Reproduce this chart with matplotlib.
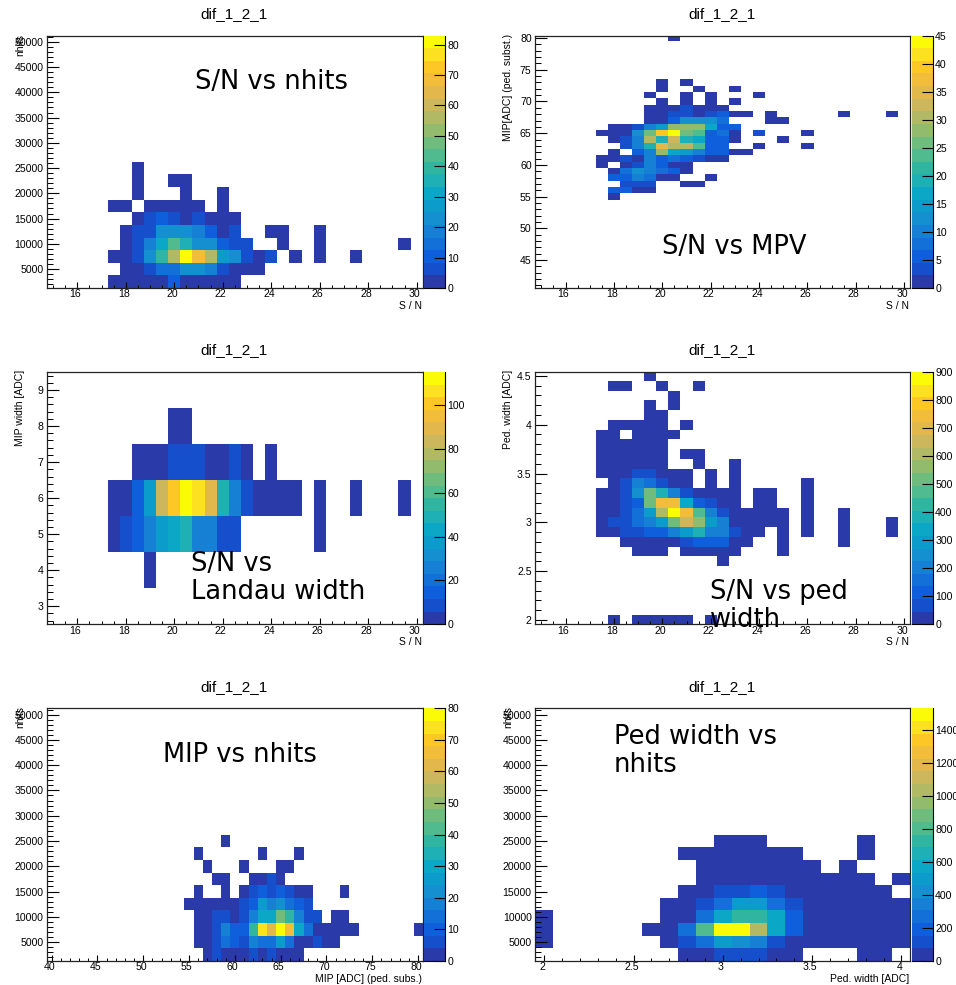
import numpy as np
import matplotlib
matplotlib.use('Agg')
import matplotlib.pyplot as plt
from matplotlib.colors import ListedColormap, Normalize
from matplotlib.ticker import MultipleLocator
from matplotlib.transforms import ScaledTranslation

# 20 contour colours
contour_colors = ['#2a3aa8', '#164fcb', '#0f5fdc', '#1370d8', '#1680d5',
                  '#1490d0', '#0b9ccc', '#0aa8c6', '#1eb0b5', '#30b5a0',
                  '#4fbb8e', '#70bc7e', '#92bb6e', '#b2b964', '#cdb75c',
                  '#e2b84c', '#f2bd3a', '#fdc826', '#fbe120', '#fbfb06']

# bin edges of the histograms
sn_edges = np.arange(14.75, 30.5, 0.5)
nhits_edges = np.arange(1250, 51500, 2500)
mip_edges = np.arange(40.5, 81, 1.0)
mipx_edges = np.arange(39.5, 81, 1.0)
width_edges = np.arange(2.5, 10, 1.0)
ped_edges = np.arange(1.95, 4.6, 0.1)
pedx_edges = np.arange(1.95, 4.1, 0.1)

# each row is (y bin, first x bin, contents)
sn_nhits = [
    (0, 5, [2, 2, 2, 2, 2, 10, 2, 2, 2, 2, 2]),
    (1, 6, [2, 2, 8, 16, 13, 21, 24, 20, 7, 2, 2, 2]),
    (2, 5, [2, 2, 6, 22, 38, 58, 83, 70, 57, 28, 24, 7, 2, 6, 0, 2, 0, 2, 0, 0, 2]),
    (3, 6, [2, 6, 20, 31, 45, 36, 22, 22, 10, 6, 6, 0, 0, 2, 0, 0, 2, 0, 0, 0, 0, 0, 0, 2]),
    (4, 6, [2, 6, 8, 24, 24, 24, 17, 11, 2, 6, 0, 0, 2, 2, 0, 0, 2]),
    (5, 7, [2, 6, 9, 7, 2, 6, 2, 2, 2]),
    (6, 5, [2, 2, 0, 2, 2, 2, 2, 2, 0, 2]),
    (7, 7, [2, 0, 0, 0, 2, 0, 0, 2]),
    (8, 7, [2, 0, 0, 2, 2]),
    (9, 7, [2]),
]
sn_mip = [
    (39, 11, [2]),
    (32, 10, [2, 0, 2]),
    (31, 10, [2, 0, 0, 2, 0, 0, 2]),
    (30, 9, [2, 0, 0, 2, 0, 2, 0, 0, 0, 2]),
    (29, 10, [2, 0, 2, 0, 2, 0, 2]),
    (28, 9, [2, 2, 2, 4, 2, 2, 2]),
    (27, 9, [2, 2, 4, 4, 2, 4, 5, 2, 2, 0, 2, 0, 0, 0, 0, 0, 2, 0, 0, 0, 2]),
    (26, 9, [2, 2, 5, 12, 12, 13, 8, 0, 0, 0, 2, 2]),
    (25, 6, [2, 2, 4, 9, 15, 28, 28, 27, 16, 6, 5]),
    (24, 5, [2, 2, 2, 13, 26, 40, 45, 26, 23, 5, 8, 2, 0, 4, 0, 0, 0, 2]),
    (23, 6, [2, 4, 11, 30, 18, 33, 19, 16, 5, 5, 2, 0, 0, 0, 2]),
    (22, 7, [4, 9, 19, 34, 30, 30, 24, 6, 6, 0, 0, 2, 0, 0, 0, 2]),
    (21, 6, [2, 0, 6, 10, 28, 17, 15, 10, 5, 5, 2, 2]),
    (20, 5, [2, 2, 4, 2, 9, 5, 8, 6, 3, 2, 2]),
    (19, 5, [2, 0, 2, 4, 9, 5, 2, 2]),
    (18, 6, [2, 7, 13, 9, 8, 6, 2]),
    (17, 6, [5, 6, 9, 7, 2, 2, 0, 0, 2]),
    (16, 7, [4, 4, 4, 0, 0, 2, 2]),
    (15, 6, [6, 5, 2, 2]),
    (14, 6, [2]),
]
sn_width = [
    (5, 10, [2, 2]),
    (4, 7, [2, 2, 2, 8, 8, 8, 2, 2, 7, 2, 0, 2]),
    (3, 5, [2, 2, 12, 37, 84, 98, 115, 108, 90, 47, 25, 8, 2, 2, 2, 2, 0, 2, 0, 0, 2, 0, 0, 0, 2]),
    (2, 5, [2, 8, 12, 24, 38, 42, 47, 24, 24, 8, 8, 0, 0, 0, 0, 0, 0, 2]),
    (1, 8, [2]),
]
sn_ped = [
    (25, 9, [2]),
    (24, 6, [2, 2, 0, 0, 2, 0, 0, 2]),
    (23, 11, [2]),
    (22, 9, [2, 0, 2]),
    (21, 9, [2, 2]),
    (20, 6, [20, 20, 20, 20, 20, 0, 20]),
    (19, 5, [20, 20, 0, 20, 20, 20, 20]),
    (18, 5, [20, 20, 20, 20, 20, 20]),
    (17, 5, [20, 20, 20, 20, 20, 20, 0, 20, 20]),
    (16, 5, [20, 20, 20, 20, 20, 20, 0, 0, 20, 0, 0, 20]),
    (15, 5, [20, 20, 20, 50, 50, 20, 20, 20, 0, 20, 0, 20]),
    (14, 6, [20, 70, 220, 160, 80, 20, 20, 0, 20, 0, 20, 0, 0, 0, 0, 0, 20]),
    (13, 5, [20, 20, 70, 260, 500, 380, 200, 80, 20, 20, 20, 20, 0, 20, 20, 0, 0, 20]),
    (12, 5, [20, 20, 70, 120, 510, 750, 720, 340, 120, 70, 20, 20, 0, 20, 20, 0, 0, 20]),
    (11, 5, [20, 20, 80, 160, 280, 590, 900, 760, 470, 190, 80, 20, 20, 20, 20, 20, 0, 20, 0, 0, 20]),
    (10, 5, [20, 70, 80, 150, 190, 310, 500, 630, 560, 280, 190, 20, 20, 20, 20, 20, 0, 20, 0, 0, 20, 0, 0, 0, 20]),
    (9, 5, [20, 20, 60, 70, 120, 120, 200, 280, 400, 180, 190, 80, 20, 20, 0, 20, 0, 20, 0, 0, 20, 0, 0, 0, 20]),
    (8, 7, [20, 20, 20, 20, 20, 70, 120, 90, 120, 20, 20, 0, 0, 20, 0, 0, 0, 0, 20]),
    (7, 8, [20, 20, 20, 0, 20, 20, 20, 20, 20, 0, 0, 0, 20]),
    (6, 15, [20]),
    (0, 6, [20, 0, 20, 20, 20, 20, 20, 0, 20]),
]
mip_nhits = [
    (0, 17, [2, 7, 2, 2, 2, 6, 2, 6, 2, 2, 2]),
    (1, 16, [2, 2, 7, 14, 11, 6, 18, 14, 14, 26, 14, 2, 2, 6, 2, 2]),
    (2, 16, [2, 2, 6, 17, 8, 11, 39, 74, 62, 80, 64, 28, 14, 2, 2, 2, 2, 2, 0, 0, 0, 0, 0, 0, 2]),
    (3, 16, [2, 2, 6, 6, 2, 6, 18, 28, 28, 45, 36, 18, 6, 6, 0, 2, 2]),
    (4, 15, [2, 2, 2, 2, 2, 2, 6, 10, 27, 19, 23, 14, 9, 6]),
    (5, 16, [2, 0, 0, 2, 0, 2, 5, 8, 6, 9, 5, 2, 2, 0, 0, 0, 2]),
    (6, 18, [2, 2, 0, 0, 2, 2, 6, 2]),
    (7, 17, [2, 0, 0, 0, 2, 0, 0, 0, 2, 2]),
    (8, 16, [2, 0, 0, 0, 0, 0, 0, 2, 0, 0, 0, 2]),
    (9, 19, [2]),
]
ped_nhits = [
    (0, 8, [20, 20, 90, 90, 90, 20, 20, 0, 0, 0, 20, 20]),
    (1, 0, [20, 0, 0, 0, 0, 0, 0, 20, 120, 300, 500, 450, 330, 120, 20, 20, 20, 20, 20, 20, 20]),
    (2, 0, [20, 0, 0, 0, 0, 0, 20, 20, 270, 830, 1530, 1530, 1040, 570, 200, 20, 20, 20, 20, 20, 20]),
    (3, 0, [20, 0, 0, 0, 0, 0, 0, 20, 20, 240, 540, 730, 730, 560, 200, 20, 20, 20, 20, 20, 20]),
    (4, 7, [20, 20, 100, 250, 500, 500, 280, 100, 20, 20, 20, 20, 20, 20]),
    (5, 8, [20, 20, 90, 90, 170, 100, 20, 20, 20, 20, 20, 20]),
    (6, 9, [20, 20, 20, 20, 20, 20, 20, 20, 20, 20, 0, 20]),
    (7, 9, [20, 20, 20, 20, 20, 20, 20, 0, 20]),
    (8, 8, [20, 20, 20, 20, 20, 20, 20, 0, 0, 0, 20]),
    (9, 10, [20, 20, 20, 0, 0, 0, 0, 0, 20]),
]

# top of the palette axis in each pad
z_max = [83, 45, 115, 900, 80, 1533]
z_steps = [10, 5, 20, 100, 10, 200]

titles = ['dif_1_2_1'] * 6
x_titles = ['S / N', 'S / N', 'S / N', 'S / N', 'MIP [ADC] (ped. subs.)', 'Ped. width [ADC]']
y_titles = ['nhits', 'MIP[ADC] (ped. subst.)', 'MIP width [ADC]', 'Ped. width [ADC]', 'nhits', 'nhits']
notes = [['S/N vs nhits'], ['S/N vs MPV'], ['S/N vs', 'Landau width'],
         ['S/N vs ped', 'width'], ['MIP vs nhits'], ['Ped width vs', 'nhits']]

W, H = 956, 985
plt.rcParams['font.family'] = ['Liberation Sans', 'DejaVu Sans']
fig = plt.figure(figsize=(W / 100, H / 100), dpi=100)
cmap = ListedColormap(contour_colors)


def fx(x):
    return x / W


def fy(y):
    return 1 - y / H


def fill(rows, nx, ny):
    grid = np.zeros((ny, nx))
    for row, first, vals in rows:
        grid[row, first:first + len(vals)] = vals
    return np.ma.masked_equal(grid, 0)


def pad(i, xe, ye, rows, x_major, x_minor, y_major, y_minor, box, note_pos):
    left, right, top, bottom = box
    ax = fig.add_axes([fx(left), fy(bottom), (right - left) / W, (bottom - top) / H])
    norm = Normalize(0, z_max[i])
    grid = fill(rows, len(xe) - 1, len(ye) - 1)
    mesh = ax.pcolormesh(xe, ye, grid, cmap=cmap, norm=norm, linewidth=0, antialiased=False)
    ax.set_xlim(xe[0], xe[-1])
    ax.set_ylim(ye[0], ye[-1])
    if i == 1:
        ax.set_ylim(40.6, 80.4)
    if i == 3:
        ax.set_ylim(1.955, 4.54)
    ax.xaxis.set_major_locator(MultipleLocator(x_major))
    ax.xaxis.set_minor_locator(MultipleLocator(x_minor))
    ax.yaxis.set_major_locator(MultipleLocator(y_major))
    ax.yaxis.set_minor_locator(MultipleLocator(y_minor))
    ax.xaxis.set_major_formatter('{x:g}')
    ax.yaxis.set_major_formatter('{x:g}')
    ax.tick_params(axis='x', which='major', direction='in', length=4.5, width=0.8, pad=1, labelsize=7.6)
    ax.tick_params(axis='x', which='minor', direction='in', length=2.3, width=0.7)
    ax.tick_params(axis='y', which='major', direction='in', length=8.6, width=0.8, pad=2.6, labelsize=7.6)
    ax.tick_params(axis='y', which='minor', direction='in', length=4.3, width=0.7)
    shift = ScaledTranslation(-1.5 / 72, 0, fig.dpi_scale_trans)
    for lab in ax.get_xticklabels():
        lab.set_transform(lab.get_transform() + shift)
    for s in ax.spines.values():
        s.set_linewidth(0.9)
        s.set_color('#222222')

    cax = fig.add_axes([fx(right + 1.2), fy(bottom), 21.5 / W, (bottom - top) / H])
    cb = fig.colorbar(mesh, cax=cax)
    cb.set_ticks(np.arange(0, z_max[i] + 1, z_steps[i]))
    cb.ax.minorticks_off()
    cb.ax.tick_params(direction='in', length=7.9, width=0.8, pad=1.6, labelsize=7.6, color='black')
    cb.outline.set_visible(False)
    cax.spines['right'].set_visible(True)
    cax.spines['bottom'].set_visible(True)
    cax.spines['right'].set_linewidth(0.8)
    cax.spines['bottom'].set_linewidth(0.8)

    # pad texts, placed in figure coordinates like the ROOT pads
    cx = (left + right) / 2 - 1
    fig.text(fx(cx), fy(top - 21.5), titles[i], ha='center', va='center', fontsize=11)
    fig.text(fx(right - 1), fy(bottom + 17.5), x_titles[i], ha='right', va='center', fontsize=7.5)
    fig.text(fx(left - 27), fy(top - 2), y_titles[i], ha='center', va='top', rotation=90, fontsize=7.5)
    nx, ny = note_pos
    for k, line in enumerate(notes[i]):
        fig.text(fx(nx), fy(ny + k * 28), line, ha='left', va='center', fontsize=18.5,
                 family='DejaVu Sans', color='black')


pad(0, sn_edges, nhits_edges, sn_nhits, 2, 0.5, 5000, 1000, (47, 422.7, 35.5, 288), (195, 82))
pad(1, sn_edges, mip_edges, sn_mip, 2, 0.5, 5, 1, (535.3, 910.3, 35.5, 288), (662, 247))
pad(2, sn_edges, width_edges, sn_width, 2, 0.5, 1, 0.2, (47, 422.7, 372, 624.3), (191, 564))
pad(3, sn_edges, ped_edges, sn_ped, 2, 0.5, 0.5, 0.1, (535.3, 910.3, 372, 624.3), (709.7, 592))
pad(4, mipx_edges, nhits_edges, mip_nhits, 5, 1, 5000, 1000, (47, 422.7, 708.3, 961), (163, 755))
pad(5, pedx_edges, nhits_edges, ped_nhits, 0.5, 0.1, 5000, 1000, (535.3, 910.3, 708.3, 961), (614, 736.7))

fig.savefig('out.png', dpi=100)
